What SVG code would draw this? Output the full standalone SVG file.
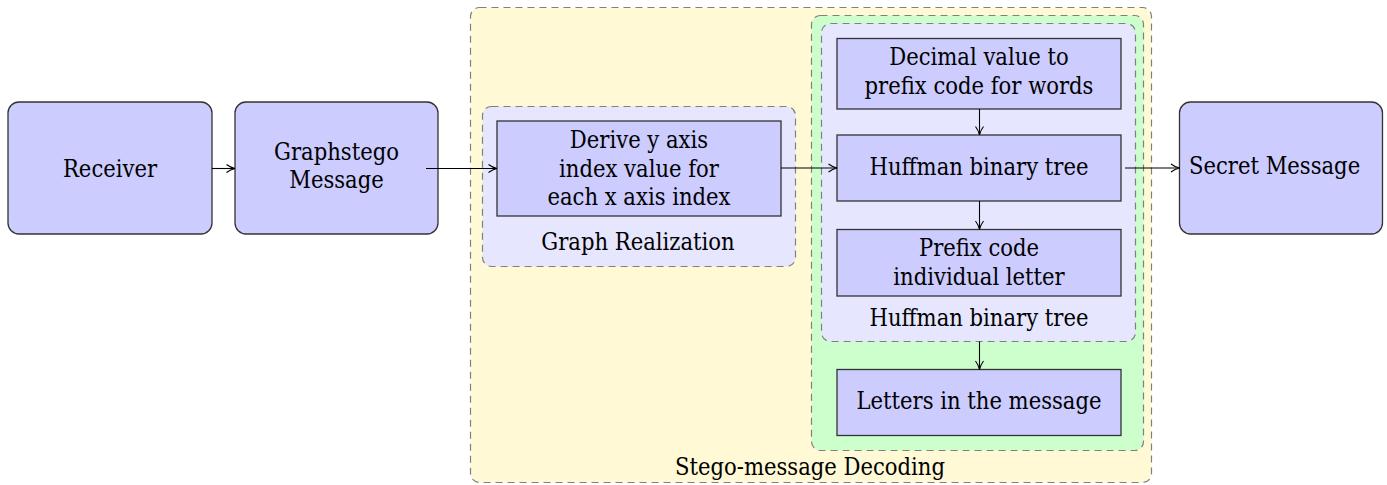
<svg xmlns="http://www.w3.org/2000/svg" width="1387" height="485" viewBox="0 0 1387 485">
  <defs>
    <marker id="arrow" viewBox="0 0 10 10" refX="9.5" refY="5" markerWidth="10" markerHeight="10" markerUnits="userSpaceOnUse" orient="auto">
      <path d="M1,1 Q5,4 9.5,5 Q5,6 1,9" fill="none" stroke="#000" stroke-width="1.1"/>
    </marker>
  </defs>
  <style>
    text { font-family: "DejaVu Serif Condensed", "DejaVu Serif", serif; font-stretch: condensed; font-size: 23.5px; fill: #000; text-anchor: middle; }
    .node { fill: #ccccff; stroke: #333; stroke-width: 1.3; }
    .group { stroke: #808080; stroke-width: 1.2; stroke-dasharray: 7 5; }
    .edge { fill: none; stroke: #000; stroke-width: 1.1; marker-end: url(#arrow); }
  </style>

  <!-- outer grouping regions -->
  <g id="stego-decoding">
    <rect class="group" x="470.5" y="7.5" width="681" height="475" rx="9" fill="#fff9d6"/>
    <text x="810" y="475">Stego-message Decoding</text>
  </g>
  <g id="graph-realization">
    <rect class="group" x="482.5" y="106.5" width="313" height="160" rx="9" fill="#e6e6ff"/>
    <text x="638" y="250">Graph Realization</text>
  </g>
  <g id="decoding-stage">
    <rect class="group" x="811.5" y="15.5" width="332" height="435" rx="9" fill="#ccffcc"/>
  </g>
  <g id="huffman-group">
    <rect class="group" x="821.5" y="23.5" width="314" height="318" rx="9" fill="#e6e6ff"/>
    <text x="979" y="326">Huffman binary tree</text>
  </g>

  <!-- nodes -->
  <g id="receiver">
    <rect class="node" x="8" y="102" width="204" height="132" rx="11"/>
    <text x="110" y="177">Receiver</text>
  </g>
  <g id="graphstego-message">
    <rect class="node" x="235" y="102" width="203" height="132" rx="11"/>
    <text x="336.5" y="160">Graphstego</text>
    <text x="336.5" y="188">Message</text>
  </g>
  <g id="derive-y">
    <rect class="node" x="497" y="121" width="284" height="95"/>
    <text x="639" y="148">Derive y axis</text>
    <text x="639" y="176.5">index value for</text>
    <text x="639" y="205">each x axis index</text>
  </g>
  <g id="decimal-prefix">
    <rect class="node" x="837" y="38.5" width="284" height="70.5"/>
    <text x="979" y="65">Decimal value to</text>
    <text x="979" y="94">prefix code for words</text>
  </g>
  <g id="huffman-tree">
    <rect class="node" x="837" y="135" width="284" height="66"/>
    <text x="979" y="174.5">Huffman binary tree</text>
  </g>
  <g id="prefix-letter">
    <rect class="node" x="837" y="229.5" width="284" height="66.5"/>
    <text x="979" y="256">Prefix code</text>
    <text x="979" y="285">individual letter</text>
  </g>
  <g id="letters">
    <rect class="node" x="837" y="369.5" width="284" height="66"/>
    <text x="979" y="408.5">Letters in the message</text>
  </g>
  <g id="secret-message">
    <rect class="node" x="1179.5" y="102" width="203" height="132" rx="11"/>
    <text x="1189" y="173.5" style="text-anchor:start">Secret Message</text>
  </g>

  <!-- connectors -->
  <g id="connectors">
    <line class="edge" x1="212" y1="168.5" x2="235" y2="168.5"/>
    <line class="edge" x1="426" y1="168.5" x2="497" y2="168.5"/>
    <line class="edge" x1="781" y1="168" x2="837" y2="168"/>
    <line class="edge" x1="979.5" y1="109" x2="979.5" y2="135"/>
    <line class="edge" x1="979.5" y1="201" x2="979.5" y2="229.5"/>
    <line class="edge" x1="979.5" y1="341.5" x2="979.5" y2="369.5"/>
    <line class="edge" x1="1125" y1="168" x2="1179.5" y2="168"/>
  </g>
</svg>
